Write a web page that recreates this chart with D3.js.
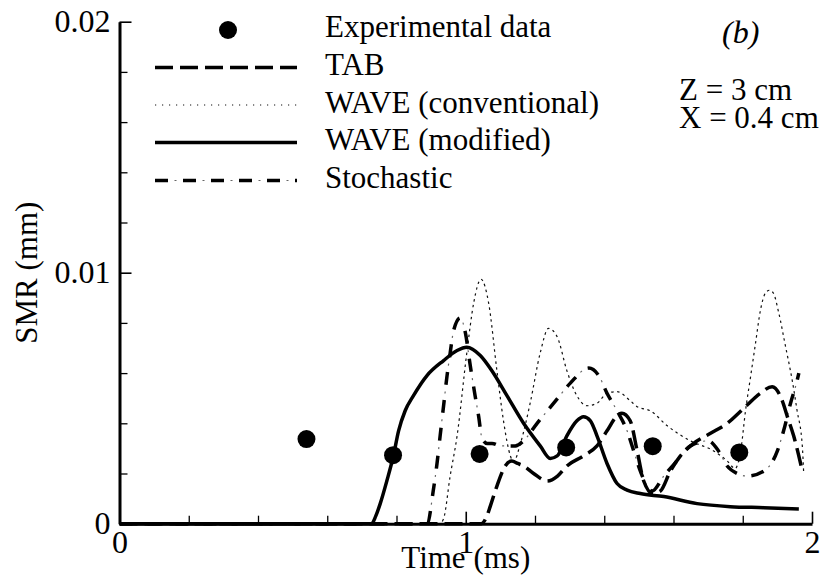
<!DOCTYPE html>
<html>
<head>
<meta charset="utf-8">
<script src="https://cdn.jsdelivr.net/npm/d3@7"></script>
<style>
  html, body { margin: 0; padding: 0; background: #fff; }
  svg { display: block; }
  text { font-family: "Liberation Serif", "Times New Roman", serif; fill: #000; }
</style>
</head>
<body>
<svg id="chart" width="822" height="577"></svg>
<script>
// Measured droplet SMR at Z = 3 cm, X = 0.4 cm
const expTime = [0.54, 0.79, 1.04, 1.29, 1.54, 1.79];
const expSMR  = [0.00337, 0.00273, 0.00278, 0.00304, 0.00309, 0.00284];

// Model predictions: [time (ms), SMR (mm)]
const tabSeries = [
  [0, 0], [1.045, 0], [1.061, 0.0003], [1.071, 0.0007], [1.09, 0.0015], [1.114, 0.0023],
  [1.133, 0.0025], [1.15, 0.0024], [1.167, 0.0023], [1.196, 0.0020], [1.235, 0.0017],
  [1.265, 0.0019], [1.292, 0.0023], [1.34, 0.0027], [1.379, 0.0031], [1.408, 0.0037],
  [1.437, 0.0043], [1.451, 0.0044], [1.475, 0.0041], [1.495, 0.0029], [1.514, 0.0017],
  [1.54, 0.0012], [1.562, 0.0013], [1.591, 0.0021], [1.62, 0.0027], [1.658, 0.0032],
  [1.707, 0.0036], [1.755, 0.0040], [1.803, 0.0046], [1.851, 0.0052], [1.885, 0.00546],
  [1.914, 0.0049], [1.928, 0.0043], [1.947, 0.0035], [1.972, 0.0021]
];

const waveConvSeries = [
  [0, 0], [0.925, 0], [0.936, 0.0002], [0.955, 0.0019], [0.975, 0.0035], [1.003, 0.0068],
  [1.023, 0.0088], [1.044, 0.00974], [1.066, 0.0088], [1.09, 0.0061], [1.109, 0.0041],
  [1.129, 0.0027], [1.138, 0.00247], [1.158, 0.0032], [1.186, 0.0048], [1.215, 0.0068],
  [1.239, 0.00778], [1.264, 0.00745], [1.292, 0.0061], [1.321, 0.0051], [1.35, 0.0047],
  [1.379, 0.0048], [1.408, 0.0052], [1.437, 0.00526], [1.475, 0.0049], [1.495, 0.00466],
  [1.533, 0.0045], [1.582, 0.0039], [1.649, 0.0033], [1.716, 0.0029], [1.755, 0.0025],
  [1.778, 0.0022], [1.795, 0.0030], [1.808, 0.0045], [1.822, 0.0058], [1.837, 0.0072],
  [1.851, 0.0085], [1.866, 0.0092], [1.877, 0.0093], [1.888, 0.0092], [1.904, 0.0084],
  [1.923, 0.0071], [1.943, 0.0057], [1.957, 0.0045], [1.972, 0.0031], [1.976, 0.0020]
];

const waveModSeries = [
  [0, 0], [0.728, 0], [0.74, 0.0003], [0.753, 0.0008], [0.772, 0.0017], [0.791, 0.0027],
  [0.806, 0.0037], [0.825, 0.0045], [0.849, 0.0051], [0.888, 0.0059], [0.936, 0.0065],
  [0.975, 0.0069], [1.003, 0.00703], [1.042, 0.0067], [1.075, 0.0061], [1.119, 0.0051],
  [1.167, 0.0040], [1.215, 0.0031], [1.244, 0.0026], [1.264, 0.0027], [1.292, 0.0035],
  [1.321, 0.0041], [1.34, 0.00426], [1.36, 0.0041], [1.379, 0.0035], [1.408, 0.0024],
  [1.437, 0.0016], [1.466, 0.00134], [1.504, 0.0012], [1.572, 0.00108], [1.668, 0.0008],
  [1.764, 0.00068], [1.861, 0.00064], [1.962, 0.00059]
];

const stochasticSeries = [
  [0, 0], [0.889, 0], [0.906, 0.0013], [0.917, 0.0024], [0.926, 0.0035], [0.936, 0.0047],
  [0.946, 0.0059], [0.955, 0.0068], [0.965, 0.0077], [0.984, 0.0082], [0.999, 0.0076],
  [1.013, 0.0063], [1.027, 0.0051], [1.037, 0.0043], [1.047, 0.0034], [1.062, 0.0032],
  [1.076, 0.0032], [1.10, 0.0031], [1.143, 0.0031], [1.167, 0.0033], [1.206, 0.0040],
  [1.254, 0.0048], [1.302, 0.0056], [1.355, 0.0062], [1.384, 0.0059], [1.408, 0.0052],
  [1.437, 0.0045], [1.466, 0.0037], [1.485, 0.0029], [1.504, 0.0021], [1.524, 0.0015],
  [1.538, 0.0013], [1.572, 0.0019], [1.61, 0.0025], [1.649, 0.0031], [1.70, 0.0033],
  [1.73, 0.0029], [1.755, 0.0023], [1.784, 0.0020], [1.813, 0.0019], [1.861, 0.0021],
  [1.90, 0.0029], [1.918, 0.0037], [1.938, 0.0048], [1.957, 0.0057], [1.962, 0.0060]
];

const legendLabels = ["Experimental data", "TAB", "WAVE (conventional)", "WAVE (modified)", "Stochastic"];
const xTickValues = [0, 1, 2];
const xTickLabels = ["0", "1", "2"];
const yTickValues = [0, 0.01, 0.02];
const yTickLabels = ["0", "0.01", "0.02"];
const xMinorTicks = [0.2, 0.4, 0.6, 0.8, 1.2, 1.4, 1.6, 1.8];
const yMinorTicks = [0.002, 0.004, 0.006, 0.008, 0.012, 0.014, 0.016, 0.018];

const svg = d3.select("#chart");
const FONT = 31;
const TICK_FONT = 32;

const x = d3.scaleLinear().domain([0, 2]).range([119.5, 812]);
const y = d3.scaleLinear().domain([0, 0.02]).range([523.7, 21.7]);

// Line styles for each model
const styles = {
  tab:        { width: 3.5, dash: "18,7", color: "#000" },
  waveConv:   { width: 1.2, dash: "2.5,3.5", color: "#111" },
  waveMod:    { width: 3.5, dash: null, color: "#000" },
  stochThick: { width: 3.5, dash: "13,15", color: "#000" },
  stochDot:   { width: 1.2, dash: "2,26", offset: -19.5, color: "#666" }
};

const line = d3.line()
  .x(d => x(d[0]))
  .y(d => y(d[1]))
  .curve(d3.curveMonotoneX);

function drawPath(g, data, s) {
  const p = g.append("path")
    .attr("d", line(data))
    .attr("fill", "none")
    .attr("stroke", s.color)
    .attr("stroke-width", s.width)
    .attr("stroke-linejoin", "round");
  if (s.dash) p.attr("stroke-dasharray", s.dash);
  if (s.offset !== undefined) p.attr("stroke-dashoffset", s.offset);
  return p;
}

const plot = svg.append("g");
drawPath(plot, waveConvSeries, styles.waveConv);
drawPath(plot, stochasticSeries, styles.stochThick);
drawPath(plot, stochasticSeries, styles.stochDot);
drawPath(plot, tabSeries, styles.tab);
drawPath(plot, waveModSeries, styles.waveMod);

plot.selectAll("circle.exp")
  .data(d3.zip(expTime, expSMR))
  .join("circle")
  .attr("class", "exp")
  .attr("cx", d => x(d[0]))
  .attr("cy", d => y(d[1]))
  .attr("r", 9)
  .attr("fill", "#000");

// Axes with inward ticks
function styleAxis(g) {
  g.attr("font-family", null).attr("font-size", null);
  g.select(".domain").attr("stroke-width", 3).attr("stroke", "#000");
  g.selectAll(".tick line").attr("stroke", "#000").attr("stroke-width", 1.6);
  g.selectAll(".tick text")
    .attr("font-size", TICK_FONT)
    .attr("fill", "#000");
}

svg.append("g")
  .attr("transform", `translate(0,${y(0)})`)
  .call(d3.axisBottom(x).tickValues(xTickValues)
    .tickFormat((d, i) => xTickLabels[i]).tickSize(-12).tickSizeOuter(0).tickPadding(7))
  .call(styleAxis);

svg.append("g")
  .attr("transform", `translate(0,${y(0)})`)
  .call(d3.axisBottom(x).tickValues(xMinorTicks).tickFormat("").tickSize(-8).tickSizeOuter(0))
  .call(g => g.select(".domain").remove())
  .call(g => g.selectAll(".tick line").attr("stroke", "#000").attr("stroke-width", 1.3));

svg.append("g")
  .attr("transform", `translate(${x(0)},0)`)
  .call(d3.axisLeft(y).tickValues(yTickValues)
    .tickFormat((d, i) => yTickLabels[i]).tickSize(-12).tickSizeOuter(0).tickPadding(9))
  .call(styleAxis);

svg.append("g")
  .attr("transform", `translate(${x(0)},0)`)
  .call(d3.axisLeft(y).tickValues(yMinorTicks).tickFormat("").tickSize(-8).tickSizeOuter(0))
  .call(g => g.select(".domain").remove())
  .call(g => g.selectAll(".tick line").attr("stroke", "#000").attr("stroke-width", 1.3));

// Axis titles
svg.append("text")
  .attr("x", (x(0) + x(2)) / 2)
  .attr("y", 568)
  .attr("text-anchor", "middle")
  .attr("font-size", FONT)
  .text("Time (ms)");

svg.append("text")
  .attr("transform", `translate(37,${(y(0) + y(0.02)) / 2}) rotate(-90)`)
  .attr("text-anchor", "middle")
  .attr("font-size", FONT)
  .text("SMR (mm)");

// Legend
const legendX0 = 155, legendX1 = 297, legendTextX = 325;
const legendBaselines = [37, 75, 112.5, 150, 188];
const legend = svg.append("g");

legend.append("circle").attr("cx", 228).attr("cy", legendBaselines[0] - 7).attr("r", 9).attr("fill", "#000");

const legendStyles = [null, [styles.tab], [styles.waveConv], [styles.waveMod], [styles.stochThick, styles.stochDot]];
legendStyles.forEach((sl, i) => {
  if (!sl) return;
  const ly = legendBaselines[i] - 7.5;
  sl.forEach(s => {
    const p = legend.append("line")
      .attr("x1", legendX0).attr("x2", legendX1)
      .attr("y1", ly).attr("y2", ly)
      .attr("stroke", s.color)
      .attr("stroke-width", s === styles.waveConv ? 1.2 : s.width);
    if (s === styles.waveConv) p.attr("stroke-dasharray", "1.2,5.8");
    else if (s.dash) p.attr("stroke-dasharray", s.dash);
    if (s.offset !== undefined) p.attr("stroke-dashoffset", s.offset);
  });
});

legend.selectAll("text.lbl")
  .data(legendLabels)
  .join("text")
  .attr("class", "lbl")
  .attr("x", legendTextX)
  .attr("y", (d, i) => legendBaselines[i])
  .attr("font-size", FONT)
  .text(d => d);

// Panel annotations
svg.append("text")
  .attr("x", 722).attr("y", 43)
  .attr("font-size", 32)
  .attr("font-style", "italic")
  .text("(b)");

svg.append("text").attr("x", 679).attr("y", 100).attr("font-size", FONT).text("Z = 3 cm");
svg.append("text").attr("x", 679).attr("y", 128).attr("font-size", FONT).text("X = 0.4 cm");
</script>
</body>
</html>
